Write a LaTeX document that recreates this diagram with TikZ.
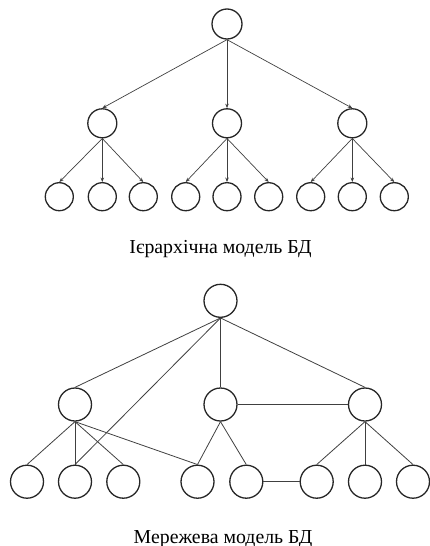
\documentclass[tikz,border=0pt]{standalone}
\usepackage{fontspec}
\setmainfont{Liberation Serif}
\usetikzlibrary{arrows.meta}
\begin{document}
\begin{tikzpicture}[x=1pt,y=-1pt,
  rootnode/.style={circle,draw=black!85,line width=1.3pt,minimum size=30pt,inner sep=0pt},
  midnode/.style={circle,draw=black!85,line width=1.3pt,minimum size=29pt,inner sep=0pt},
  leafnode/.style={circle,draw=black!85,line width=1.3pt,minimum size=28pt,inner sep=0pt},
  netnode/.style={circle,draw=black!85,line width=1.3pt,minimum size=33pt,inner sep=0pt},
  arc/.style={draw=black!75,line width=0.7pt,-{Stealth[length=4.5pt,width=3.5pt]}},
  link/.style={draw=black!75,line width=0.8pt},
  caption/.style={font=\fontsize{19.8}{22}\selectfont,anchor=base}]
\useasboundingbox (0,0) rectangle (430,546);

% hierarchical model
\node[rootnode] (r) at (227,24) {};
\node[midnode] (a) at (102.3,123.3) {};
\node[midnode] (b) at (227,123.3) {};
\node[midnode] (c) at (352.3,123.3) {};
\foreach \i/\x in {1/59.3,2/102.3,3/143.3,4/185.7,5/227,6/268.7,7/310.7,8/352.3,9/394.3}
  \node[leafnode] (l\i) at (\x,196.7) {};
\foreach \p in {a,b,c} \draw[arc] (r.south) -- (\p.north);
\foreach \i in {1,2,3} \draw[arc] (a.south) -- (l\i.north);
\foreach \i in {4,5,6} \draw[arc] (b.south) -- (l\i.north);
\foreach \i in {7,8,9} \draw[arc] (c.south) -- (l\i.north);
\node[caption] (t1) at (220.5,253) {Ієрархічна модель БД};

% network model
\node[netnode] (nr) at (220.5,300.8) {};
\node[netnode] (na) at (75,404.5) {};
\node[netnode] (nb) at (220.5,404.5) {};
\node[netnode] (nc) at (365,404.5) {};
\foreach \i/\x in {1/27,2/75,3/123.3,4/197.5,5/246.3,6/316.7,7/365,8/413}
  \node[netnode] (m\i) at (\x,481.7) {};
\draw[link] (nr.south) -- (na.north);
\draw[link] (nr.south) -- (nb.north);
\draw[link] (nr.south) -- (nc.north);
\draw[link] (nr.south) -- (m2.north);
\draw[link] (nb.east) -- (nc.west);
\foreach \i in {1,2,3,4} \draw[link] (na.south) -- (m\i.north);
\foreach \i in {4,5} \draw[link] (nb.south) -- (m\i.north);
\foreach \i in {6,7,8} \draw[link] (nc.south) -- (m\i.north);
\draw[link] (m5.east) -- (m6.west);
\node[caption] (t2) at (223,543) {Мережева модель БД};
\end{tikzpicture}
\end{document}
